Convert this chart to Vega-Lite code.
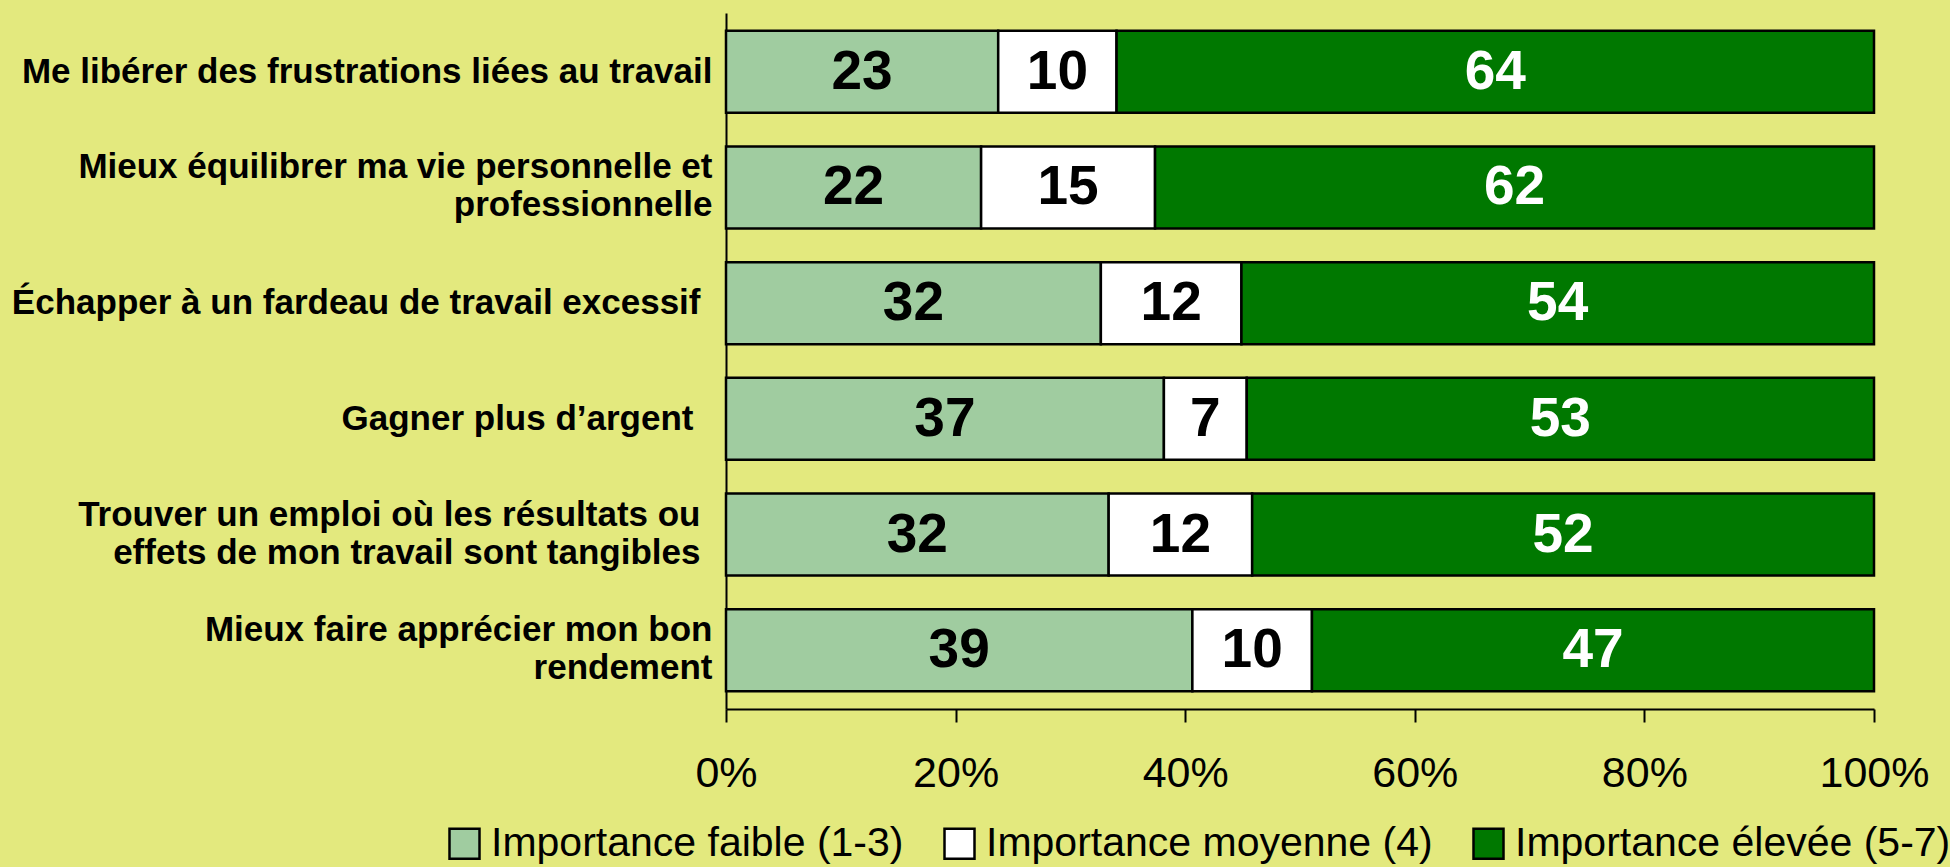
{
  "$schema": "https://vega.github.io/schema/vega-lite/v6.json",
  "autosize": {"type": "none"},
  "padding": {"left": 726, "top": 13, "right": 76, "bottom": 158},
  "width": 1148,
  "height": 696,
  "background": "#e3e97e",
  "config": {"view": {"stroke": null}},
  "data": {"values": [
    {"cat": "Me libérer des frustrations liées au travail", "importance": "Importance faible (1-3)", "value": 23},
    {"cat": "Me libérer des frustrations liées au travail", "importance": "Importance moyenne (4)", "value": 10},
    {"cat": "Me libérer des frustrations liées au travail", "importance": "Importance élevée (5-7)", "value": 64},
    {"cat": "Mieux équilibrer ma vie personnelle et|professionnelle", "importance": "Importance faible (1-3)", "value": 22},
    {"cat": "Mieux équilibrer ma vie personnelle et|professionnelle", "importance": "Importance moyenne (4)", "value": 15},
    {"cat": "Mieux équilibrer ma vie personnelle et|professionnelle", "importance": "Importance élevée (5-7)", "value": 62},
    {"cat": "Échapper à un fardeau de travail excessif", "importance": "Importance faible (1-3)", "value": 32},
    {"cat": "Échapper à un fardeau de travail excessif", "importance": "Importance moyenne (4)", "value": 12},
    {"cat": "Échapper à un fardeau de travail excessif", "importance": "Importance élevée (5-7)", "value": 54},
    {"cat": "Gagner plus d’argent", "importance": "Importance faible (1-3)", "value": 37},
    {"cat": "Gagner plus d’argent", "importance": "Importance moyenne (4)", "value": 7},
    {"cat": "Gagner plus d’argent", "importance": "Importance élevée (5-7)", "value": 53},
    {"cat": "Trouver un emploi où les résultats ou|effets de mon travail sont tangibles", "importance": "Importance faible (1-3)", "value": 32},
    {"cat": "Trouver un emploi où les résultats ou|effets de mon travail sont tangibles", "importance": "Importance moyenne (4)", "value": 12},
    {"cat": "Trouver un emploi où les résultats ou|effets de mon travail sont tangibles", "importance": "Importance élevée (5-7)", "value": 52},
    {"cat": "Mieux faire apprécier mon bon|rendement", "importance": "Importance faible (1-3)", "value": 39},
    {"cat": "Mieux faire apprécier mon bon|rendement", "importance": "Importance moyenne (4)", "value": 10},
    {"cat": "Mieux faire apprécier mon bon|rendement", "importance": "Importance élevée (5-7)", "value": 47}
  ]},
  "encoding": {
    "y": {
      "field": "cat", "type": "nominal", "sort": null,
      "scale": {"paddingInner": 0.291, "paddingOuter": 0.153},
      "axis": {
        "title": null, "ticks": false, "domainColor": "black", "domainWidth": 2,
        "labelExpr": "split(datum.value, '|')",
        "labelFont": "Liberation Sans",
        "labelFontWeight": "bold", "labelFontSize": 35, "labelColor": "black",
        "labelLimit": 0, "labelLineHeight": 38,
        "labelOffset": {
          "condition": {"test": "indexof(datum.value, '|') >= 0", "value": -20},
          "value": 0
        },
        "labelPadding": {
          "condition": [
            {"test": "indexof(datum.value, 'Gagner') === 0", "value": 33},
            {"test": "indexof(datum.value, 'Échapper') === 0 || indexof(datum.value, 'Trouver') === 0", "value": 26}
          ],
          "value": 14
        }
      }
    },
    "order": {"field": "importance", "sort": "ascending"}
  },
  "layer": [
    {
      "mark": {"type": "bar", "stroke": "black", "strokeWidth": 2.5},
      "encoding": {
        "x": {
          "field": "value", "type": "quantitative", "stack": "normalize",
          "scale": {"domain": [0, 1]},
          "axis": {
            "title": null, "format": ".0%", "values": [0, 0.2, 0.4, 0.6, 0.8, 1],
            "grid": false, "domainColor": "black", "domainWidth": 2,
            "tickColor": "black", "tickWidth": 2, "tickSize": 13,
            "labelFont": "Liberation Sans", "labelFontSize": 43, "labelColor": "black",
            "labelPadding": 30, "labelFlush": false
          }
        },
        "color": {
          "field": "importance", "type": "nominal",
          "scale": {
            "domain": ["Importance faible (1-3)", "Importance moyenne (4)", "Importance élevée (5-7)"],
            "range": ["#a0cca0", "#ffffff", "#007800"]
          },
          "legend": {
            "title": null, "orient": "none", "legendX": -282, "legendY": 810,
            "direction": "horizontal", "symbolType": "square", "symbolSize": 900,
            "symbolStrokeColor": "black", "symbolStrokeWidth": 2.5, "symbolOpacity": 1,
            "labelFont": "Liberation Sans",
            "labelFontSize": 41, "labelColor": "black", "labelOffset": 6,
            "columnPadding": 35, "padding": 0, "labelLimit": 0
          }
        }
      }
    },
    {
      "mark": {"type": "text", "font": "Liberation Sans", "fontWeight": "bold", "fontSize": 55, "baseline": "middle", "align": "center"},
      "encoding": {
        "x": {"field": "value", "type": "quantitative", "stack": "normalize", "bandPosition": 0.5},
        "detail": {"field": "importance"},
        "text": {"field": "value", "type": "quantitative"},
        "color": {
          "condition": {"test": "datum.importance === 'Importance élevée (5-7)'", "value": "white"},
          "value": "black"
        }
      }
    }
  ]
}
